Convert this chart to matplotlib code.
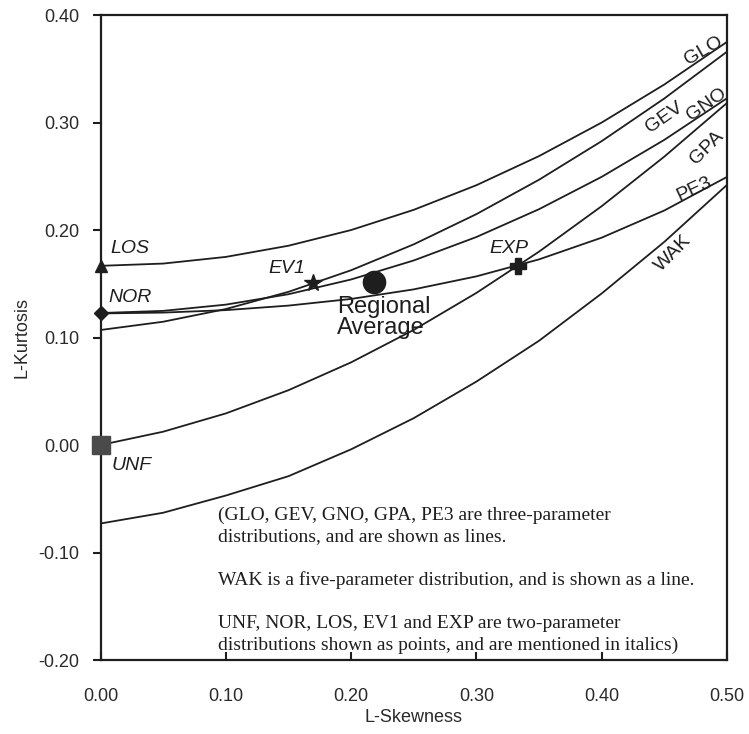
import numpy as np
import matplotlib
matplotlib.use("Agg")
import matplotlib.pyplot as plt

plt.rcParams['axes.unicode_minus'] = False
plt.rcParams['font.family'] = ['Liberation Sans', 'DejaVu Sans']

# L-skewness grid for the distribution curves
tau3 = [0.00, 0.05, 0.10, 0.15, 0.20, 0.25, 0.30, 0.35, 0.40, 0.45, 0.50]

# L-kurtosis along each three-parameter curve (and WAK)
glo = [0.1667, 0.1688, 0.1750, 0.1854, 0.2000, 0.2188, 0.2417, 0.2688, 0.3000, 0.3354, 0.3750]
gev = [0.1070, 0.1147, 0.1265, 0.1425, 0.1626, 0.1867, 0.2148, 0.2468, 0.2827, 0.3224, 0.3659]
gno = [0.1228, 0.1248, 0.1306, 0.1403, 0.1540, 0.1717, 0.1935, 0.2194, 0.2495, 0.2839, 0.3226]
gpa = [0.0000, 0.0124, 0.0294, 0.0510, 0.0769, 0.1071, 0.1415, 0.1799, 0.2222, 0.2683, 0.3182]
pe3 = [0.1224, 0.1232, 0.1255, 0.1297, 0.1359, 0.1448, 0.1569, 0.1727, 0.1929, 0.2182, 0.2494]
wak = [-0.073, -0.063, -0.047, -0.029, -0.004, 0.025, 0.059, 0.097, 0.141, 0.189, 0.242]

# two-parameter distributions (points)
pt_names = ['UNF', 'NOR', 'LOS', 'EV1', 'EXP']
pt_t3 = [0.0, 0.0, 0.0, 0.1699, 0.3333]
pt_t4 = [0.0, 0.1226, 0.1667, 0.1504, 0.1667]

# regional average
reg_t3 = 0.218
reg_t4 = 0.152

note_lines = [
    "(GLO, GEV, GNO, GPA, PE3 are three-parameter",
    "distributions, and are shown as lines.",
    "WAK is a five-parameter distribution, and is shown as a line.",
    "UNF, NOR, LOS, EV1 and EXP are two-parameter",
    "distributions shown as points, and are mentioned in italics)",
]
note_y = [-0.0698, -0.0893, -0.1302, -0.1702, -0.1907]

fig = plt.figure(figsize=(7.49, 7.34), dpi=100)
ax = fig.add_axes([0.1342, 0.1008, 0.8364, 0.8787])

ink = '#1e1e1e'
lw = 1.3
for ys in (glo, gev, gno, gpa, pe3, wak):
    ax.plot(tau3, ys, color=ink, lw=lw, solid_capstyle='butt')

# point markers
mk = {'UNF': dict(marker='s', ms=12.5, color='#4a4a4a'),
      'NOR': dict(marker='D', ms=7, color=ink),
      'LOS': dict(marker='^', ms=8, color=ink),
      'EV1': dict(marker='*', ms=13, color=ink),
      'EXP': dict(marker='P', ms=11, color=ink)}
for n, x, y in zip(pt_names, pt_t3, pt_t4):
    ax.plot([x], [y], linestyle='none', clip_on=False, zorder=5, **mk[n])

ax.plot([reg_t3], [reg_t4], 'o', ms=16, color=ink, zorder=5)

# point labels (italic)
pt_lab = {'LOS': (0.008, 0.183), 'NOR': (0.006, 0.137), 'UNF': (0.009, -0.019),
          'EV1': (0.149, 0.164), 'EXP': (0.326, 0.183)}
for n, (x, y) in pt_lab.items():
    ha = 'left' if x < 0.05 else 'center'
    ax.text(x, y, n, style='italic', fontsize=14, color=ink, ha=ha, va='center')

ax.text(0.226, 0.128, 'Regional', fontsize=17, color=ink, ha='center', va='center')
ax.text(0.224, 0.109, 'Average', fontsize=17, color=ink, ha='center', va='center')

# curve labels
curve_lab = [('GLO', 0.481, 0.367, 30), ('GEV', 0.450, 0.305, 35),
             ('GNO', 0.484, 0.317, 35), ('GPA', 0.484, 0.277, 45),
             ('PE3', 0.474, 0.238, 25), ('WAK', 0.457, 0.178, 45)]
for n, x, y, r in curve_lab:
    ax.text(x, y, n, fontsize=14, color=ink, ha='center', va='center', rotation=r,
            rotation_mode='anchor')

# explanatory notes
for s, y in zip(note_lines, note_y):
    ax.text(0.094, y, s, family='Liberation Serif', fontsize=14, color=ink,
            ha='left', va='baseline')

ax.set_xlim(0, 0.5)
ax.set_ylim(-0.2, 0.4)
ax.set_xticks(np.arange(0, 0.51, 0.1))
ax.set_yticks(np.arange(-0.2, 0.41, 0.1))
ax.xaxis.set_major_formatter(matplotlib.ticker.FormatStrFormatter('%.2f'))
ax.yaxis.set_major_formatter(matplotlib.ticker.FormatStrFormatter('%.2f'))
ax.tick_params(axis='x', direction='in', length=6, width=1.5, pad=20,
               labelsize=13, labelcolor='#2a2a2a', color=ink)
ax.tick_params(axis='y', direction='out', length=6, width=1.5, pad=9,
               labelsize=13, labelcolor='#2a2a2a', color=ink)
for s in ax.spines.values():
    s.set_linewidth(1.6)
    s.set_color(ink)

ax.set_xlabel('L-Skewness', fontsize=13, color='#2a2a2a', labelpad=3)
ax.set_ylabel('L-Kurtosis', fontsize=13, color='#2a2a2a', labelpad=6)

fig.savefig('out.png', dpi=100, facecolor='white')
